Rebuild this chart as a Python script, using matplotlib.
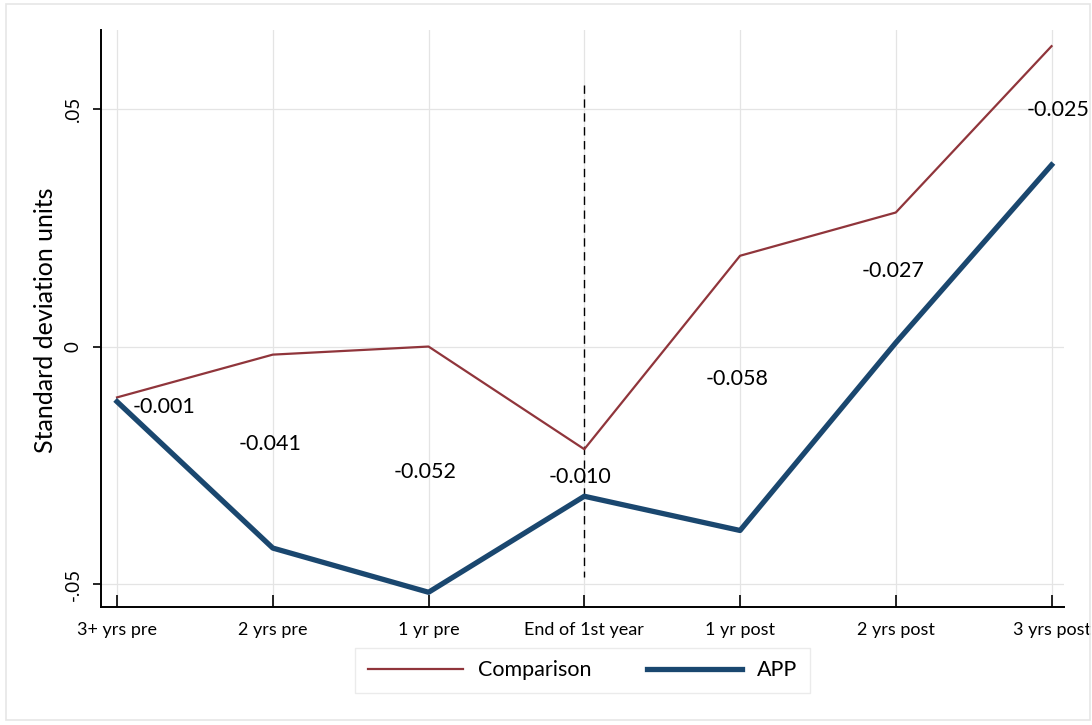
import matplotlib
matplotlib.use('Agg')
import matplotlib.pyplot as plt
from matplotlib.patches import Rectangle

plt.rcParams['font.family'] = ['Lato', 'DejaVu Sans']

categories = ['3+ yrs pre', '2 yrs pre', '1 yr pre', 'End of 1st year',
              '1 yr post', '2 yrs post', '3 yrs post']
comparison = [-0.0107, -0.0017, 0.0000, -0.0216, 0.0191, 0.0282, 0.0632]
app = [-0.0116, -0.0424, -0.0517, -0.0315, -0.0387, 0.0008, 0.0382]

# difference labels and where they sit (x in category index, y in data units)
diff_labels = ['-0.001', '-0.041', '-0.052', '-0.010', '-0.058', '-0.027', '-0.025']
label_x = [0.30, 0.98, 1.98, 2.97, 3.98, 4.98, 6.04]
label_y = [-0.0128, -0.0206, -0.0263, -0.0275, -0.0069, 0.0158, 0.0498]

yticks = [-0.05, 0, 0.05]
ytick_labels = ['-.05', '0', '.05']

navy = '#1a476f'
maroon = '#90353b'

fig = plt.figure(figsize=(10.92, 7.25), dpi=100)
ax = fig.add_axes([101 / 1092, 1 - 607 / 725, (1064 - 101) / 1092, (607 - 30) / 725])

# outer frame
fig.patches.append(Rectangle((6 / 1092, 1 - 720 / 725), (1090 - 6) / 1092, (720 - 4) / 725,
                             transform=fig.transFigure, fill=False,
                             edgecolor='#e6e6e6', linewidth=1.2))

x = list(range(len(categories)))

for xi in x:
    ax.axvline(xi, color='#e4e4e4', linewidth=0.9, zorder=0)
for yv in yticks:
    ax.axhline(yv, color='#e4e4e4', linewidth=0.9, zorder=0)

ax.plot(x, comparison, color=maroon, linewidth=1.6, label='Comparison', zorder=3)
ax.plot(x, app, color=navy, linewidth=3.8, label='APP', zorder=3)

ax.plot([3, 3], [0.055, -0.0485], color='black', linestyle=(0, (6, 4)),
        linewidth=1.0, zorder=2)

for lx, ly, t in zip(label_x, label_y, diff_labels):
    ax.text(lx, ly, t, ha='center', va='center', fontsize=15.5, color='black', zorder=4)

ax.set_xlim(-0.103, 6.08)
ax.set_ylim(-0.0548, 0.0666)
ax.set_xticks(x)
ax.set_xticklabels(categories, fontsize=13)
ax.set_yticks(yticks)
ax.set_yticklabels(ytick_labels, rotation=90, va='center', fontsize=13.5)
ax.tick_params(axis='x', direction='in', length=9, width=1.2, pad=11)
ax.tick_params(axis='y', direction='out', length=6, width=1.2, pad=8)
ax.set_ylabel('Standard deviation units', fontsize=18, va='center')
ax.yaxis.set_label_coords(-0.058, 0.497)

for s in ['top', 'right']:
    ax.spines[s].set_visible(False)
for s in ['left', 'bottom']:
    ax.spines[s].set_linewidth(1.4)

leg = ax.legend(loc='center', bbox_to_anchor=(0.5, -0.110),
                ncol=2, frameon=True, fancybox=False, fontsize=15.5,
                handlelength=4.4, columnspacing=2.6, borderpad=0.6, handletextpad=0.7,
                borderaxespad=0)
leg.get_frame().set_edgecolor('#e6e6e6')
leg.get_frame().set_linewidth(1.0)

fig.savefig('out.png', dpi=100, facecolor='white')
